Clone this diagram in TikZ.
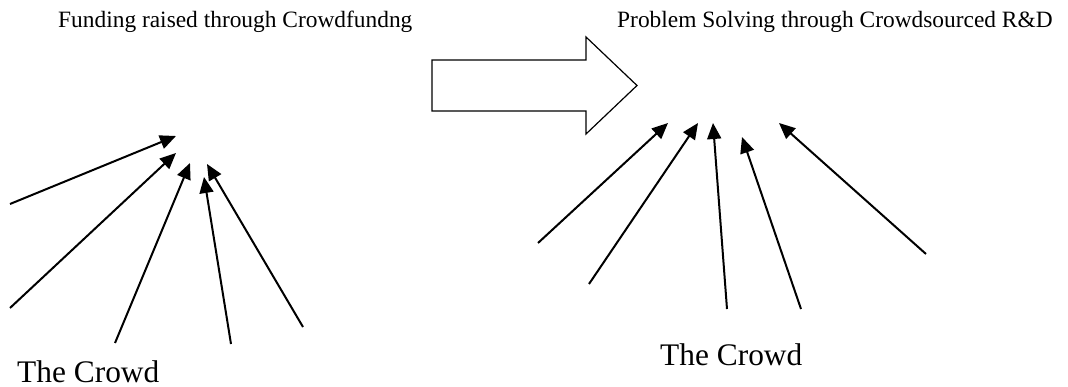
\documentclass[tikz,border=0pt]{standalone}
\usepackage{fontspec}
\setmainfont{Liberation Serif}
\usepackage{tikz}
\usetikzlibrary{arrows.meta}

\begin{document}
\begin{tikzpicture}[x=1pt, y=-1pt, title/.style={anchor=base west, inner sep=0pt, font=\fontsize{23.4}{28}\selectfont}, crowd/.style={anchor=base west, inner sep=0pt, font=\fontsize{31.4}{36}\selectfont}, ray/.style={line width=2pt, -{Triangle[length=16pt,width=14pt]}}]
\useasboundingbox (0,0) rectangle (1068,387);
\node[title] (fund) at (58,28) {Funding raised through Crowdfundng};
\node[title] (solve) at (617,28) {Problem Solving through Crowdsourced R\&D};
\node[crowd] (crowdl) at (17,382) {The Crowd};
\node[crowd] (crowdr) at (660,365) {The Crowd};
% big arrow
\draw[line width=1.2pt, line join=miter] (432,60) -- (586,60) -- (586,37) -- (637,85.5) -- (586,134) -- (586,111) -- (432,111) -- cycle;
% left fan
\coordinate (la1) at (10,204); \coordinate (lt1) at (176,136);
\coordinate (la2) at (10,308); \coordinate (lt2) at (176,153);
\coordinate (la3) at (115,343); \coordinate (lt3) at (190,163);
\coordinate (la4) at (231,344); \coordinate (lt4) at (204,177);
\coordinate (la5) at (303,327); \coordinate (lt5) at (207,164);
\foreach \i in {1,...,5} \draw[ray] (la\i) -- (lt\i);
% right fan
\coordinate (ra1) at (538,243); \coordinate (rt1) at (668,123);
\coordinate (ra2) at (589,284); \coordinate (rt2) at (698,123);
\coordinate (ra3) at (727,309); \coordinate (rt3) at (713,123);
\coordinate (ra4) at (801,309); \coordinate (rt4) at (742,137);
\coordinate (ra5) at (926,254); \coordinate (rt5) at (779,123);
\foreach \i in {1,...,5} \draw[ray] (ra\i) -- (rt\i);
\end{tikzpicture}
\end{document}
